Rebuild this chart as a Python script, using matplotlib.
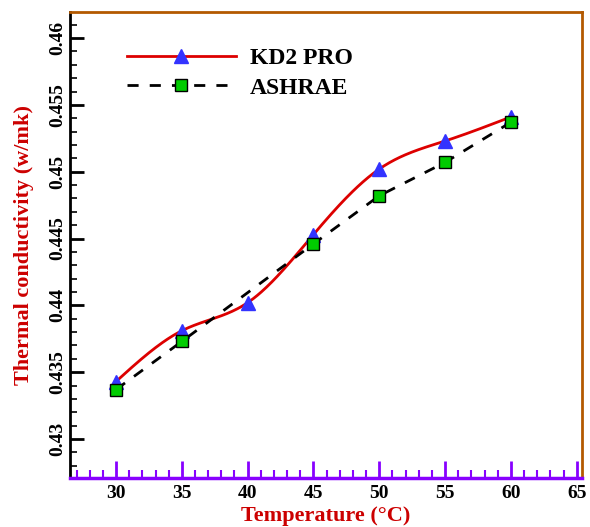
import numpy as np
import matplotlib
matplotlib.use("Agg")
import matplotlib.pyplot as plt
from matplotlib.ticker import MultipleLocator

temp_kd2 = [30, 35, 40, 45, 50, 55, 60]
k_kd2 = [0.4343, 0.4381, 0.4402, 0.4453, 0.4502, 0.4523, 0.4541]
temp_ash = [30, 35, 45, 50, 55, 60]
k_ash = [0.4337, 0.4373, 0.4446, 0.4482, 0.4507, 0.4537]
x_ticks = [30, 35, 40, 45, 50, 55, 60, 65]
y_ticks = [0.43, 0.435, 0.44, 0.445, 0.45, 0.455, 0.46]


def natural_spline(x, y, n=300):
    x = np.asarray(x, float); y = np.asarray(y, float)
    m = len(x); h = np.diff(x)
    A = np.zeros((m, m)); b = np.zeros(m)
    A[0, 0] = A[-1, -1] = 1
    for i in range(1, m - 1):
        A[i, i - 1] = h[i - 1]; A[i, i] = 2 * (h[i - 1] + h[i]); A[i, i + 1] = h[i]
        b[i] = 6 * ((y[i + 1] - y[i]) / h[i] - (y[i] - y[i - 1]) / h[i - 1])
    M = np.linalg.solve(A, b)
    xs = np.linspace(x[0], x[-1], n)
    idx = np.clip(np.searchsorted(x, xs) - 1, 0, m - 2)
    x0, x1 = x[idx], x[idx + 1]; hh = x1 - x0
    ys = (M[idx] * (x1 - xs) ** 3 / (6 * hh) + M[idx + 1] * (xs - x0) ** 3 / (6 * hh)
          + (y[idx] / hh - M[idx] * hh / 6) * (x1 - xs) + (y[idx + 1] / hh - M[idx + 1] * hh / 6) * (xs - x0))
    return xs, ys


plt.rcParams['font.family'] = ['Liberation Serif', 'DejaVu Serif']
plt.rcParams['font.weight'] = 'bold'

fig = plt.figure(figsize=(5.9, 5.27), dpi=100)
ax = fig.add_axes([0.1186, 0.093, 0.8678, 0.8842])

xs, ys = natural_spline(temp_kd2, k_kd2)
ax.plot(xs, ys, color='#dd0000', lw=2, zorder=2)
ax.plot(temp_kd2, k_kd2, ls='none', marker='^', ms=10, color='#3333ff', mec='#3333ff', zorder=3)
ax.plot([], [], color='#dd0000', lw=2, marker='^', ms=10, mfc='#3333ff', mec='#3333ff', label='KD2 PRO')

ax.plot(temp_ash, k_ash, color='black', lw=2, ls=(0, (4, 4)), marker='s', ms=9,
        mfc='#00cc00', mec='black', mew=1, zorder=4, label='ASHRAE')

ax.set_xlim(26.5, 65.4)
ax.set_ylim(0.42708, 0.46195)
ax.set_xticks(x_ticks)
ax.set_yticks(y_ticks)
ax.set_yticklabels([f'{v:g}' for v in y_ticks], rotation=90, va='center')
ax.xaxis.set_minor_locator(MultipleLocator(1))
ax.yaxis.set_minor_locator(MultipleLocator(0.001))

purple = '#8800ff'
ax.tick_params(axis='x', which='major', direction='in', length=12, width=2, color=purple,
               labelsize=14, pad=5)
ax.tick_params(axis='x', which='minor', direction='in', length=6, width=1.5, color=purple)
ax.tick_params(axis='y', which='major', direction='in', length=10, width=2, color='black',
               labelsize=14, pad=3)
ax.tick_params(axis='y', which='minor', direction='in', length=5, width=1.2, color='black')
for lab in ax.get_xticklabels() + ax.get_yticklabels():
    lab.set_fontweight('bold')

ax.spines['left'].set_color('black')
ax.spines['left'].set_linewidth(2)
ax.spines['bottom'].set_color(purple)
ax.spines['bottom'].set_linewidth(2.5)
ax.spines['top'].set_color('#b35900')
ax.spines['top'].set_linewidth(2)
ax.spines['right'].set_color('#b35900')
ax.spines['right'].set_linewidth(2)

ax.set_xlabel('Temperature (°C)', color='#cc0000', fontsize=16, fontweight='bold', labelpad=3)
ax.set_ylabel('Thermal conductivity (w/mk)', color='#cc0000', fontsize=16, fontweight='bold', labelpad=11)

leg = ax.legend(loc='upper left', bbox_to_anchor=(0.07, 0.97), frameon=False, handlelength=4.6,
                prop={'family': 'Liberation Serif', 'weight': 'bold', 'size': 17}, handletextpad=0.6,
                labelspacing=0.35)

fig.savefig('out.png', dpi=100)
